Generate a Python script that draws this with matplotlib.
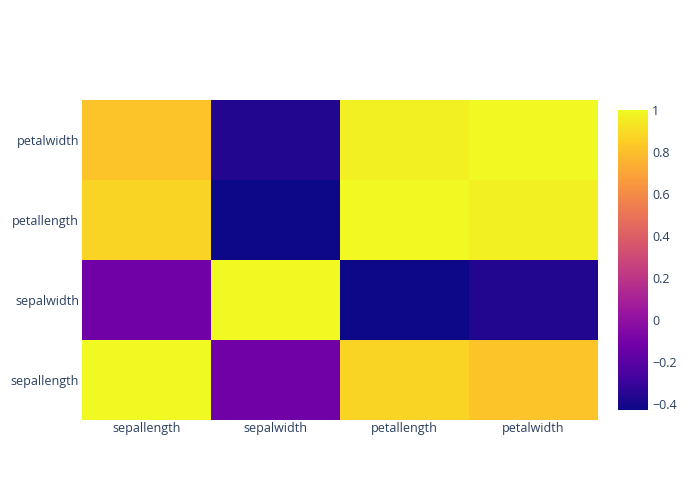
import numpy as np
import matplotlib
matplotlib.use("Agg")
import matplotlib.pyplot as plt
from matplotlib.colors import LinearSegmentedColormap

features = ["sepallength", "sepalwidth", "petallength", "petalwidth"]
corr = [
    [1.000, -0.118, 0.872, 0.818],
    [-0.118, 1.000, -0.428, -0.366],
    [0.872, -0.428, 1.000, 0.963],
    [0.818, -0.366, 0.963, 1.000],
]
cbar_ticks = [-0.4, -0.2, 0, 0.2, 0.4, 0.6, 0.8, 1]

plasma = ["#0d0887", "#46039f", "#7201a8", "#9c179e", "#bd3786",
          "#d8576b", "#ed7953", "#fb9f3a", "#fdca26", "#f0f921"]
cmap = LinearSegmentedColormap.from_list("plotly_plasma", plasma)
TEXT = "#2a3f5f"

plt.rcParams["font.family"] = ["Open Sans", "DejaVu Sans"]

W, H = 700, 500
fig = plt.figure(figsize=(7, 5), dpi=100)
ax = fig.add_axes([82 / W, 1 - 420 / H, (598 - 82) / W, (420 - 100) / H])
cax = fig.add_axes([618 / W, 1 - 410 / H, 30 / W, 300 / H])

z = np.array(corr)
vmin, vmax = z.min(), z.max()
im = ax.imshow(z, cmap=cmap, vmin=vmin, vmax=vmax, aspect="auto",
               origin="lower", interpolation="nearest")
ax.set_xticks(range(len(features)))
ax.set_xticklabels(features)
ax.set_yticks(range(len(features)))
ax.set_yticklabels(features)
ax.tick_params(length=0, labelsize=9, colors=TEXT)
ax.tick_params(axis="x", pad=1.5)
ax.tick_params(axis="y", pad=2)
for s in ax.spines.values():
    s.set_visible(False)

cb = fig.colorbar(im, cax=cax, ticks=cbar_ticks)
cb.outline.set_visible(False)
cb.ax.set_yticklabels(["\u22120.4", "\u22120.2", "0", "0.2", "0.4", "0.6", "0.8", "1"])
cb.ax.tick_params(length=0, labelsize=9, colors=TEXT, pad=3)

fig.savefig("out.png", dpi=100, facecolor="white")
